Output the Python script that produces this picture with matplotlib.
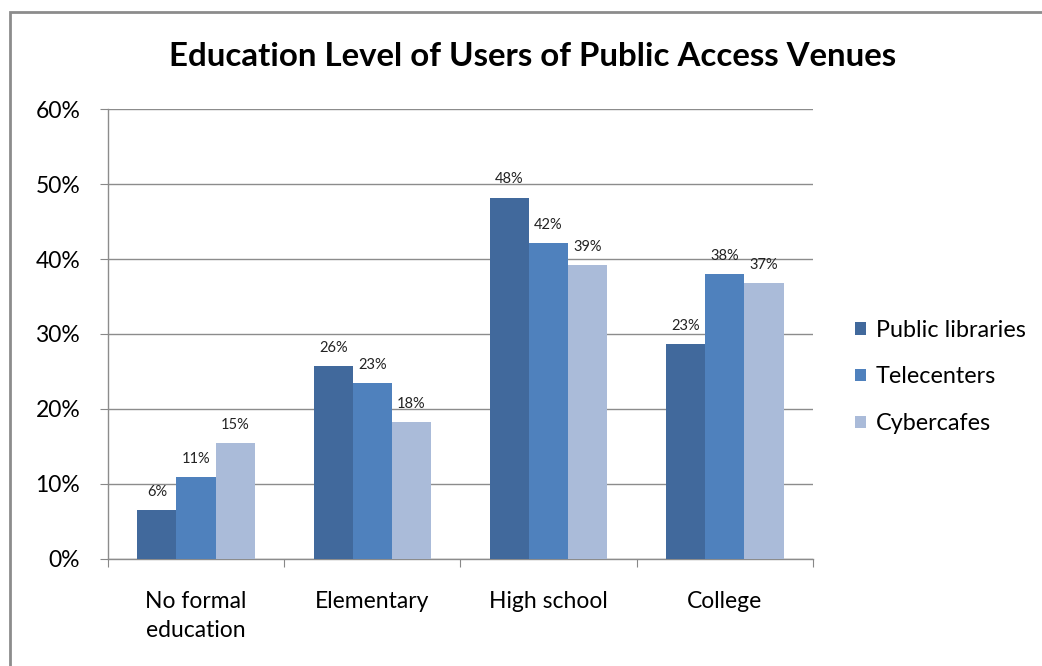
import numpy as np
import matplotlib.pyplot as plt
from matplotlib.patches import Rectangle

# data
categories = ['No formal\neducation', 'Elementary', 'High school', 'College']
series_names = ['Public libraries', 'Telecenters', 'Cybercafes']
public_libraries = [6.5, 25.7, 48.2, 28.7]
telecenters = [10.9, 23.5, 42.1, 38.0]
cybercafes = [15.5, 18.2, 39.2, 36.8]
# labels as printed on the chart (the College one says 23%)
pl_labels = ['6%', '26%', '48%', '23%']
tc_labels = ['11%', '23%', '42%', '38%']
cc_labels = ['15%', '18%', '39%', '37%']
yticks = [0, 10, 20, 30, 40, 50, 60]

colors = ['#41699C', '#4F81BD', '#AABBD9']
font = 'Lato'

fig = plt.figure(figsize=(10.42, 6.66), dpi=100)
ax = fig.add_axes([0.1036, 0.1607, 0.6766, 0.6756])

# outer chart frame (only top and left visible in the reference)
fig.patches.append(Rectangle((10 / 1042, -0.1), 1.2, 1 - 12 / 666 + 0.1,
                             transform=fig.transFigure, fill=False,
                             edgecolor='#8C8C8C', linewidth=2))

x = np.arange(len(categories))
width = 1 / 4.5
all_values = [public_libraries, telecenters, cybercafes]
all_labels = [pl_labels, tc_labels, cc_labels]
for i, (vals, labs) in enumerate(zip(all_values, all_labels)):
    pos = x + (i - 1) * width
    bars = ax.bar(pos, vals, width, color=colors[i], label=series_names[i],
                  zorder=3)
    for b, lab in zip(bars, labs):
        ax.annotate(lab, (b.get_x() + b.get_width() / 2, b.get_height()),
                    xytext=(0, 8), textcoords='offset points',
                    ha='center', va='bottom', fontsize=10.5,
                    family=font, color='#222222')

ax.set_xlim(-0.5, len(categories) - 0.5)
ax.set_ylim(0, 60)
ax.set_yticks(yticks)
ax.set_yticklabels([f'{t}%' for t in yticks], family=font, fontsize=16.5)
ax.set_xticks(np.arange(len(categories) + 1) - 0.5, minor=False)
ax.set_xticklabels([])
ax.set_xticks(x, minor=True)
ax.set_xticklabels(categories, minor=True, family=font, fontsize=16.5,
                   linespacing=1.5)
ax.tick_params(axis='x', which='major', length=6, color='#888888',
               direction='out')
ax.tick_params(axis='x', which='minor', length=0, pad=23)
ax.tick_params(axis='y', length=6, color='#888888', pad=14)

ax.grid(axis='y', color='#8C8C8C', linewidth=1, zorder=0)
ax.set_axisbelow(True)
for side in ['top', 'right']:
    ax.spines[side].set_visible(False)
for side in ['left', 'bottom']:
    ax.spines[side].set_color('#8C8C8C')
    ax.spines[side].set_linewidth(1)

fig.text(533 / 1042, 1 - 57 / 666, 'Education Level of Users of Public Access Venues',
         ha='center', va='center', fontsize=23.8, fontweight='bold', family=font)

fig.legend(loc='center left', bbox_to_anchor=(834 / 1042, 1 - 377 / 666),
           frameon=False, prop={'family': font, 'size': 16.8},
           handlelength=0.45, handleheight=0.45, handletextpad=0.45,
           labelspacing=1.1)

fig.savefig('out.png', dpi=100)
